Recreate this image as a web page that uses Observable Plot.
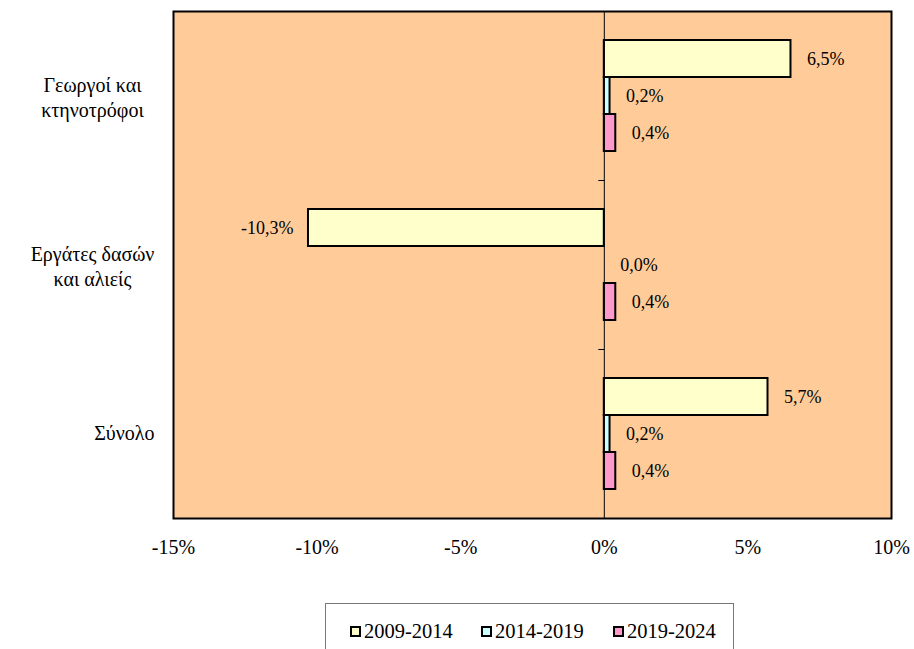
<!DOCTYPE html>
<html>
<head>
<meta charset="utf-8">
<script src="https://cdn.jsdelivr.net/npm/d3@7"></script>
<script src="https://cdn.jsdelivr.net/npm/@observablehq/plot@0.6"></script>
<style>
  body { margin: 0; background: #fff; font-family: "Liberation Serif", "Times New Roman", serif; }
  #wrap { position: relative; width: 914px; height: 649px; overflow: hidden; }
  #legend { position: absolute; left: 325px; top: 603px; width: 409px; height: 60px; border: 1px solid #777; box-sizing: border-box; }
  .item { position: absolute; top: 16px; display: flex; align-items: center; font-size: 20.5px; color: #000; }
  .sw { width: 7px; height: 7px; border: 2px solid #000; margin-right: 3px; }
  .t-val { font-size: 18px; }
</style>
</head>
<body>
<div id="wrap">
  <div id="chart"></div>
  <div id="legend"></div>
</div>
<script>
const categories = ["Γεωργοί και κτηνοτρόφοι", "Εργάτες δασών και αλιείς", "Σύνολο"];
const categoryLabels = ["Γεωργοί και\nκτηνοτρόφοι", "Εργάτες δασών\nκαι αλιείς", "Σύνολο"];
const periods = ["2009-2014", "2014-2019", "2019-2024"];
const values2009_2014 = [6.5, -10.3, 5.7];
const values2014_2019 = [0.2, 0.0, 0.2];
const values2019_2024 = [0.4, 0.4, 0.4];
const periodColors = ["#FFFFCC", "#CCFFFF", "#FF99CC"];
const xTicks = [-15, -10, -5, 0, 5, 10];

const seriesValues = [values2009_2014, values2014_2019, values2019_2024];
const data = [];
categories.forEach((c, i) => {
  periods.forEach((p, j) => {
    data.push({category: c, period: p, value: seriesValues[j][i]});
  });
});
const fmt = v => v.toFixed(1).replace(".", ",") + "%";
const catRows = categories.map((c, i) => ({category: c, label: categoryLabels[i]}));

const tickLeft = {
  draw(context, size) {
    const r = Math.sqrt(size / Math.PI);
    context.moveTo(-r, 0);
    context.lineTo(0, 0);
  }
};

const SERIF = "'Liberation Serif', 'Times New Roman', serif";
const chart = Plot.plot({
  width: 914,
  height: 590,
  marginTop: 10,
  marginBottom: 72,
  marginLeft: 173,
  marginRight: 23,
  style: {fontFamily: SERIF, fontSize: "20px", background: "transparent", color: "#000", overflow: "visible"},
  x: {domain: [-15, 10], ticks: xTicks, tickFormat: d => d + "%", tickSize: 0, tickPadding: 21, label: null},
  y: {domain: periods, paddingInner: 0, paddingOuter: 0.757, axis: null},
  fy: {domain: categories, padding: 0, axis: null},
  color: {domain: periods, range: periodColors},
  marks: [
    Plot.frame({fill: "#FFCC99", facet: "super"}),
    Plot.barX(data, {x: "value", y: "period", fy: "category", fill: "period", stroke: "#000", strokeWidth: 2}),
    Plot.ruleX([0], {stroke: "#000", strokeWidth: 1}),
    Plot.dot(catRows, {fy: "category", x: () => 0, frameAnchor: "top", symbol: tickLeft, r: 6, stroke: "#000", strokeWidth: 1, fill: "none"}),
    Plot.text(data.filter(d => d.value >= 0), {x: "value", y: "period", fy: "category", text: d => fmt(d.value), textAnchor: "start", dx: 16, fill: "#000", className: "t-val"}),
    Plot.text(data.filter(d => d.value < 0), {x: "value", y: "period", fy: "category", text: d => fmt(d.value), textAnchor: "end", dx: -15, fill: "#000", className: "t-val"}),
    Plot.text(catRows.filter(d => d.label.includes("\n")), {fy: "category", text: "label", frameAnchor: "left", dx: -81, textAnchor: "middle", lineHeight: 1.25, fill: "#000"}),
    Plot.text(catRows.filter(d => !d.label.includes("\n")), {fy: "category", text: "label", frameAnchor: "left", dx: -19, textAnchor: "end", fill: "#000"}),
    Plot.frame({stroke: "#000", strokeWidth: 2, facet: "super"})
  ]
});
document.getElementById("chart").appendChild(chart);

const legend = document.getElementById("legend");
const itemLeft = [24, 155, 287];
periods.forEach((p, i) => {
  const it = document.createElement("div");
  it.className = "item";
  it.style.left = itemLeft[i] + "px";
  const sw = document.createElement("div");
  sw.className = "sw";
  sw.style.background = periodColors[i];
  const tx = document.createElement("span");
  tx.textContent = p;
  it.appendChild(sw);
  it.appendChild(tx);
  legend.appendChild(it);
});
</script>
</body>
</html>
